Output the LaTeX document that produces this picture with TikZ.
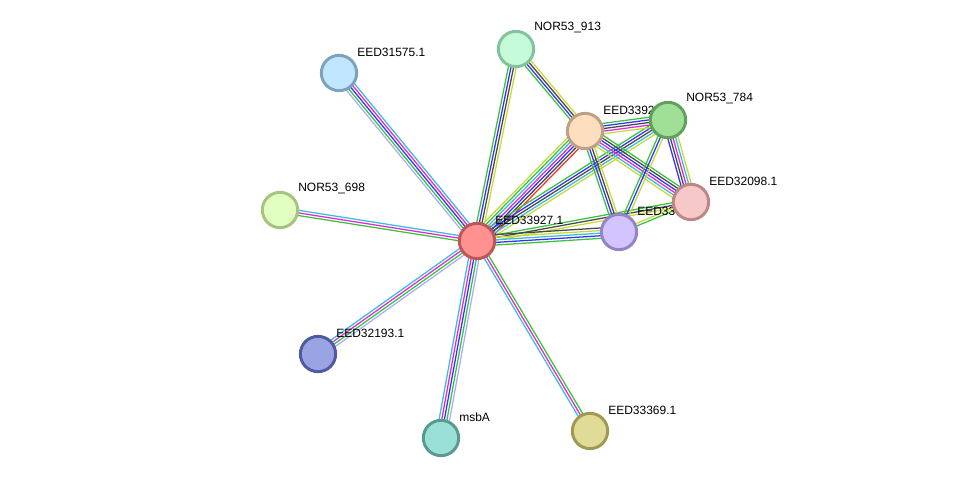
\documentclass[tikz,border=0pt]{standalone}
\usepackage{fontspec}
\setmainfont{Liberation Sans}
\usetikzlibrary{calc,backgrounds}
% evidence channel colours
\definecolor{cy}{RGB}{62,186,222}
\definecolor{mg}{RGB}{222,40,222}
\definecolor{gr}{RGB}{56,196,56}
\definecolor{bl}{RGB}{50,50,250}
\definecolor{bk}{RGB}{72,72,72}
\definecolor{yl}{RGB}{196,218,60}
\definecolor{lv}{RGB}{172,172,255}
\definecolor{rd}{RGB}{250,50,50}
% one bundle of parallel lines between two proteins
\newcommand{\lsep}{1.95}
\newcommand{\linkset}[3]{%
  \def\nlines{0}\foreach \x in {#3}{\xdef\nlines{\number\numexpr\nlines+1\relax}}%
  \foreach \col [count=\k] in {#3}{%
    \pgfmathsetmacro{\off}{(\k-(\nlines+1)/2)*\lsep}%
    \draw[link,\col] ($(#1)!\off pt!90:(#2)$) -- ($(#2)!\off pt!-90:(#1)$);}}

\begin{document}
\begin{tikzpicture}[x=0.75pt,y=-0.75pt,font=\fontsize{9}{10}\selectfont,
  prot/.style={circle,inner sep=0pt,minimum size=26.5pt,line width=2.2pt},
  lbl/.style={anchor=west,inner sep=0pt},
  link/.style={line width=0.95pt,line cap=butt}]
\useasboundingbox (0,0) rectangle (976,485);
% proteins
\node[prot,fill={rgb,255:red,193;green,230;blue,255},draw={rgb,255:red,124;green,162;blue,190}] (e31575) at (339,73) {};
\node[lbl] at ($(e31575)+(18,-21)$) {EED31575.1};
\node[prot,fill={rgb,255:red,196;green,250;blue,216},draw={rgb,255:red,130;green,194;blue,156}] (n913) at (516,49) {};
\node[lbl] at ($(n913)+(18,-21)$) {NOR53\_913};
\node[prot,fill={rgb,255:red,226;green,255;blue,194},draw={rgb,255:red,164;green,196;blue,128}] (n698) at (280,210) {};
\node[lbl] at ($(n698)+(18,-21)$) {NOR53\_698};
\node[prot,fill={rgb,255:red,154;green,164;blue,226},draw={rgb,255:red,80;green,90;blue,160}] (e32193) at (318,354) {};
\node[lbl] at ($(e32193)+(18,-21)$) {EED32193.1};
\node[prot,fill={rgb,255:red,154;green,224;blue,214},draw={rgb,255:red,88;green,154;blue,144}] (msbA) at (441,438) {};
\node[lbl] at ($(msbA)+(18,-21)$) {msbA};
\node[prot,fill={rgb,255:red,224;green,220;blue,152},draw={rgb,255:red,158;green,154;blue,84}] (e33369) at (590,431) {};
\node[lbl] at ($(e33369)+(18,-21)$) {EED33369.1};
\node[prot,fill={rgb,255:red,255;green,145;blue,145},draw={rgb,255:red,190;green,86;blue,86}] (hub) at (477,241) {};
\node[lbl] at ($(hub)+(18,-21)$) {EED33927.1};
\node[prot,fill={rgb,255:red,253;green,222;blue,190},draw={rgb,255:red,190;green,160;blue,130}] (e3392) at (585,131) {};
\node[lbl] at ($(e3392)+(18,-21)$) {EED3392};
\node[prot,fill={rgb,255:red,210;green,196;blue,255},draw={rgb,255:red,150;green,130;blue,200}] (e33) at (619,232) {};
\node[lbl] at ($(e33)+(18,-21)$) {EED33};
\node[prot,fill={rgb,255:red,160;green,224;blue,150},draw={rgb,255:red,96;green,160;blue,90}] (n784) at (668,120) {};
\node[lbl] at ($(n784)+(18,-21)$) {NOR53\_784};
\node[prot,fill={rgb,255:red,247;green,200;blue,200},draw={rgb,255:red,190;green,135;blue,135}] (e32098) at (691,202) {};
\node[lbl] at ($(e32098)+(18,-21)$) {EED32098.1};
% interactions
\begin{scope}[on background layer]
\linkset{hub}{e31575}{cy,mg,bl,gr,lv}
\linkset{hub}{n698}{cy,mg,gr}
\linkset{hub}{e32193}{cy,mg,gr,lv}
\linkset{hub}{msbA}{cy,mg,bl,gr,lv}
\linkset{hub}{e33369}{cy,mg,gr}
\linkset{hub}{n913}{yl,bk,bl,gr}
\linkset{n913}{e3392}{gr,bl,bk,yl}
\linkset{hub}{e3392}{rd,bk,bl,mg,cy,gr,yl}
\linkset{hub}{n784}{yl,cy,bk,bl,gr}
\linkset{hub}{e32098}{yl,bk,gr}
\linkset{hub}{e33}{gr,bl,cy,yl,bk}
\linkset{e3392}{n784}{yl,mg,bk,bl,gr}
\linkset{e3392}{e32098}{yl,cy,mg,bl,bk,gr}
\linkset{e3392}{e33}{gr,bl,bk,yl}
\linkset{n784}{e32098}{bl,bk,mg,cy,yl}
\linkset{n784}{e33}{gr,bl,yl}
\linkset{e33}{e32098}{gr,yl}
\end{scope}
\end{tikzpicture}
\end{document}
